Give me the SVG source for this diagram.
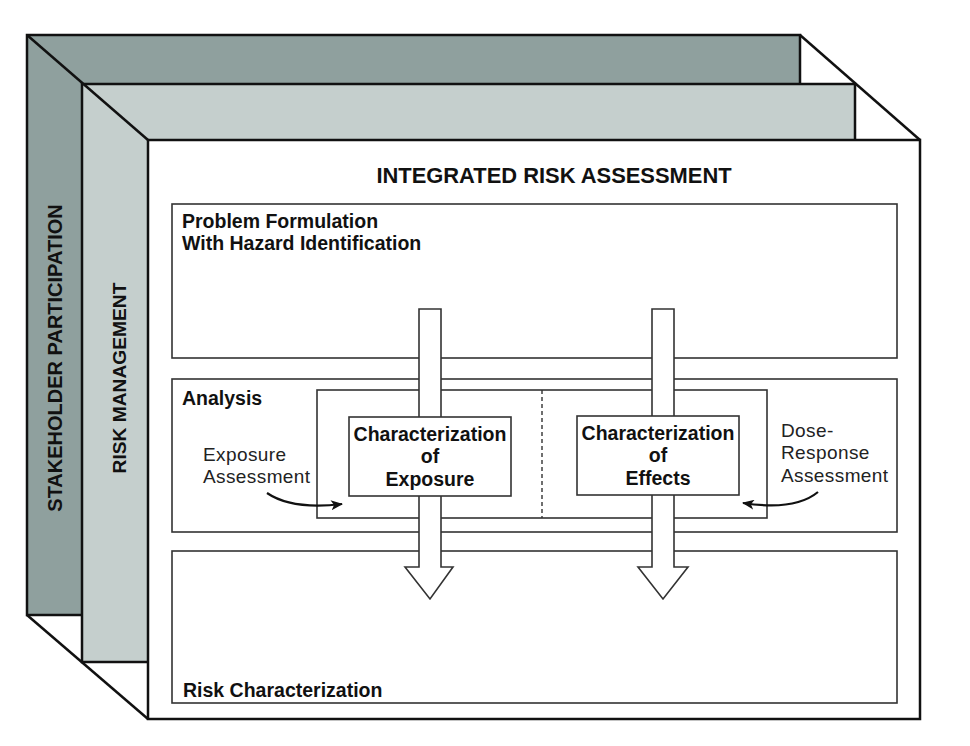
<svg xmlns="http://www.w3.org/2000/svg" width="970" height="746" viewBox="0 0 970 746">
<defs>
<style>
.frame{stroke:#111;stroke-width:2.5;stroke-linejoin:miter}
.box{fill:#fff;stroke:#333;stroke-width:1.6}
.inner{fill:none;stroke:#333;stroke-width:1.6}
.bold{font-family:"Liberation Sans",Arial,sans-serif;font-weight:bold;fill:#111}
.reg{font-family:"Liberation Sans",Arial,sans-serif;fill:#222;font-size:19px}
.big{fill:#fff;stroke:#333;stroke-width:1.6;stroke-linejoin:miter}
.curve{fill:none;stroke:#111;stroke-width:2.2}
</style>
<marker id="ah" viewBox="0 0 12 10" refX="11" refY="5" markerWidth="12" markerHeight="10" markerUnits="userSpaceOnUse" orient="auto">
<path d="M0,0 L12,5 L0,10 L3,5 Z" fill="#111"/>
</marker>
</defs>
<rect width="970" height="746" fill="#fff"/>

<g id="stakeholder-participation">
<rect class="frame" x="27" y="35" width="773" height="580" fill="#8fa09e"/>
<text class="bold" font-size="20" text-anchor="middle" transform="translate(62,358) rotate(-90)">STAKEHOLDER PARTICIPATION</text>
</g>

<g id="risk-management">
<rect class="frame" x="82" y="84" width="773" height="578" fill="#c5cfcd"/>
<text class="bold" font-size="19.2" text-anchor="middle" transform="translate(126,378) rotate(-90)">RISK MANAGEMENT</text>
</g>

<g id="integrated-risk-assessment">
<rect class="frame" x="148" y="140" width="772" height="579" fill="#fff"/>
<line class="frame" x1="27" y1="35" x2="148" y2="140"/>
<line class="frame" x1="800" y1="35" x2="920" y2="140"/>
<line class="frame" x1="27" y1="615" x2="148" y2="719"/>
<text class="bold" font-size="21.9" x="554" y="183" text-anchor="middle">INTEGRATED RISK ASSESSMENT</text>
</g>

<g id="problem-formulation">
<rect class="box" x="172" y="204" width="725" height="154"/>
<text class="bold" font-size="19.5" x="182" y="228">Problem Formulation</text>
<text class="bold" font-size="19.5" x="182" y="250">With Hazard Identification</text>
</g>

<g id="analysis">
<rect class="box" x="172" y="379" width="725" height="153"/>
<text class="bold" font-size="19.5" x="182" y="405">Analysis</text>
<rect class="inner" x="317" y="390" width="450" height="128"/>
<line x1="542" y1="390" x2="542" y2="518" stroke="#333" stroke-width="1.4" stroke-dasharray="4,3"/>
<text class="reg" x="203" y="461" letter-spacing="0.4">Exposure</text>
<text class="reg" x="203" y="483" letter-spacing="0.4">Assessment</text>
<text class="reg" x="781" y="437" letter-spacing="0.4">Dose-</text>
<text class="reg" x="781" y="459" letter-spacing="0.4">Response</text>
<text class="reg" x="781" y="482" letter-spacing="0.4">Assessment</text>
</g>

<g id="risk-characterization">
<rect class="box" x="172" y="551" width="725" height="152"/>
<text class="bold" font-size="19.5" x="183" y="697">Risk Characterization</text>
</g>

<g id="connectors">
<path class="big" d="M419,309 L441,309 L441,567 L453,567 L430,599 L405,567 L419,567 Z"/>
<path class="big" d="M652,309 L674,309 L674,567 L688,567 L663,599 L638,567 L652,567 Z"/>
<path class="curve" d="M267,493 Q292,510 342,504" marker-end="url(#ah)"/>
<path class="curve" d="M818,492 Q795,511 743,503" marker-end="url(#ah)"/>
</g>

<g id="characterization-of-exposure">
<rect class="box" x="349" y="417" width="162" height="79"/>
<text class="bold" font-size="19.5" x="430" y="441" text-anchor="middle">Characterization</text>
<text class="bold" font-size="19.5" x="430" y="463" text-anchor="middle">of</text>
<text class="bold" font-size="19.5" x="430" y="486" text-anchor="middle">Exposure</text>
</g>

<g id="characterization-of-effects">
<rect class="box" x="577" y="416" width="162" height="79"/>
<text class="bold" font-size="19.5" x="658" y="440" text-anchor="middle">Characterization</text>
<text class="bold" font-size="19.5" x="658" y="462" text-anchor="middle">of</text>
<text class="bold" font-size="19.5" x="658" y="485" text-anchor="middle">Effects</text>
</g>
</svg>
